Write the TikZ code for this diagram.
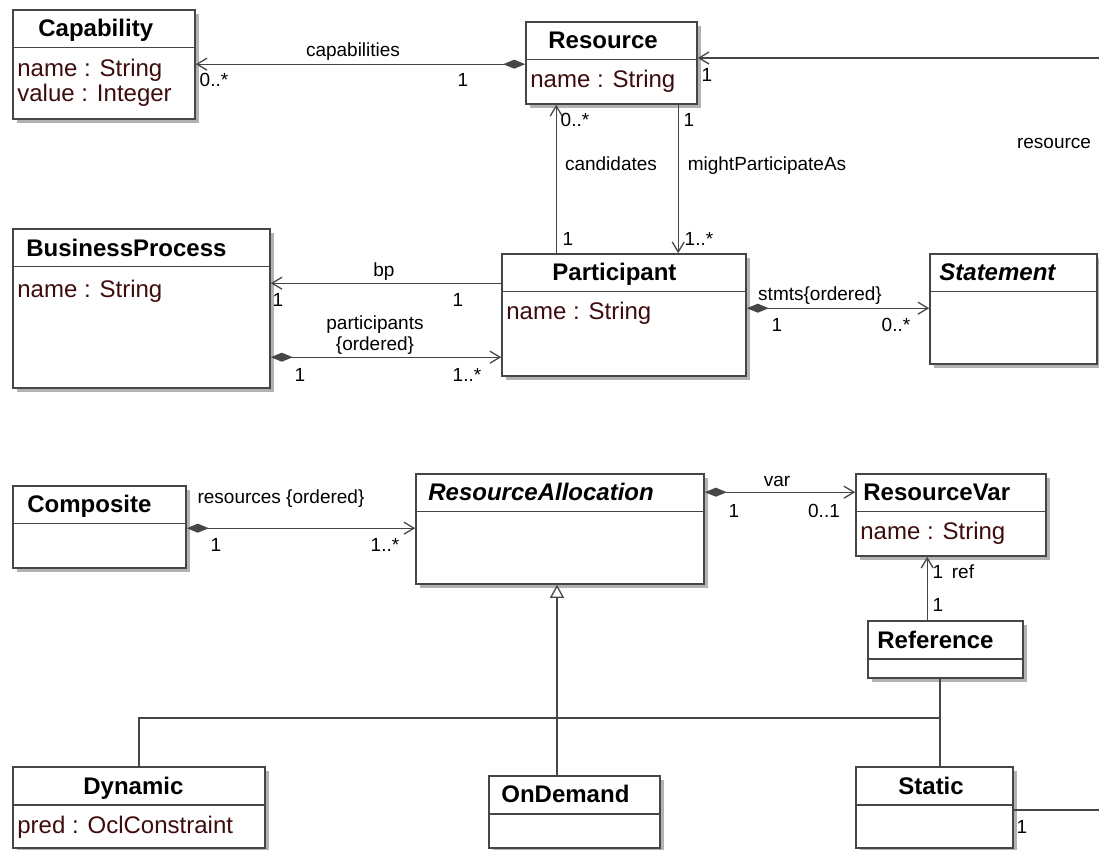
\documentclass[tikz,border=0pt]{standalone}
\usepackage{fontspec}
\setmainfont{Liberation Sans}
\usetikzlibrary{arrows.meta,calc,fit,shadows}
\definecolor{attrc}{RGB}{62,12,12}
\definecolor{linec}{RGB}{70,70,70}

\begin{document}
\begin{tikzpicture}[x=0.5pt,y=-0.5pt,
  cls/.style={draw=linec,line width=0.8pt,fill=white,inner sep=0pt,drop shadow={shadow xshift=2pt,shadow yshift=-2pt,fill=black!30,opacity=1}},
  ttl/.style={font=\fontsize{12}{14}\selectfont\bfseries,anchor=base west,inner sep=0pt},
  abs/.style={ttl,font=\fontsize{12}{14}\selectfont\bfseries\itshape},
  att/.style={font=\fontsize{12}{14}\selectfont,text=attrc,anchor=base west,inner sep=0pt},
  lbl/.style={font=\fontsize{9.5}{11}\selectfont,anchor=base,inner sep=0pt},
  assoc/.style={draw=linec,line width=0.65pt,-{Straight Barb[length=5pt,width=6pt]}},
  comp/.style={draw=linec,line width=0.65pt,{Diamond[length=11pt,width=4.5pt,fill=linec]}-{Straight Barb[length=5pt,width=6pt]}},
  gen/.style={draw=linec,line width=0.65pt,-{Triangle[open,length=6.5pt,width=7pt,fill=white]}},
  tree/.style={draw=linec,line width=0.65pt}]
\useasboundingbox (0,0) rectangle (1099,850);

% classes
\node[cls,fit={(13,10)(195,119)}] (cap) {};
\node[cls,fit={(526,22)(697,104)}] (res) {};
\node[cls,fit={(13,229)(270,388)}] (bp) {};
\node[cls,fit={(502,254)(746,376)}] (par) {};
\node[cls,fit={(930,254)(1097,364)}] (stm) {};
\node[cls,fit={(13,486)(186,568)}] (com) {};
\node[cls,fit={(416,474)(704,584)}] (ra) {};
\node[cls,fit={(856,474)(1046,556)}] (rv) {};
\node[cls,fit={(868,621)(1023,678)}] (ref) {};
\node[cls,fit={(13,767)(265,848)}] (dyn) {};
\node[cls,fit={(489,776)(660,848)}] (ond) {};
\node[cls,fit={(856,767)(1013,848)}] (sta) {};
\foreach \c in {cap,res,bp,par,stm,com,ra,rv,ref,dyn,ond,sta}
  \draw[tree,line width=0.8pt] ($(\c.north west)+(0,38.5)$) -- ($(\c.north east)+(0,38.5)$);

% names
\node[ttl] (capT) at (38,37) {Capability};
\node[ttl] (resT) at (548,49) {Resource};
\node[ttl] (bpT) at (26,257) {BusinessProcess};
\node[ttl] (parT) at (552,281) {Participant};
\node[abs] (stmT) at (939,281) {Statement};
\node[ttl] (comT) at (27,513) {Composite};
\node[abs] (raT) at (428,501) {ResourceAllocation};
\node[ttl] (rvT) at (863,501) {ResourceVar};
\node[ttl] (refT) at (877,648) {Reference};
\node[ttl] (dynT) at (83,794) {Dynamic};
\node[ttl] (ondT) at (501,802) {OnDemand};
\node[ttl] (staT) at (898,794) {Static};

% attributes
\node[att] (capA) at (17,77) {name : String};
\node[att] (capB) at (17,102) {value : Integer};
\node[att] (resA) at (530,88) {name : String};
\node[att] (bpA) at (17,298) {name : String};
\node[att] (parA) at (506,320) {name : String};
\node[att] (rvA) at (860,539) {name : String};
\node[att] (dynA) at (17,833) {pred : OclConstraint};

% associations
\draw[comp] ($(res.north west)+(0,43)$) coordinate (capY) -- (capY -| cap.east);
\coordinate (resE) at (1099,58);
\draw[assoc] (resE) -- (resE -| res.east);
\draw[assoc] ($(par.north west)+(55,0)$) coordinate (candX) -- (candX |- res.south);
\draw[assoc] ($(res.south west)+(153,0)$) coordinate (mpaX) -- (mpaX |- par.north);
\draw[assoc] ($(par.north west)+(0,30)$) coordinate (bpY) -- (bpY -| bp.east);
\draw[comp] ($(bp.north east)+(0,129)$) coordinate (partY) -- (partY -| par.west);
\draw[comp] ($(par.north east)+(0,55)$) coordinate (stmY) -- (stmY -| stm.west);
\draw[comp] ($(com.north east)+(0,43)$) coordinate (rscY) -- (rscY -| ra.west);
\draw[comp] ($(ra.north east)+(0,19)$) coordinate (varY) -- (varY -| rv.west);
\draw[assoc] ($(ref.north west)+(60,0)$) coordinate (refX) -- (refX |- rv.south);
\coordinate (staE) at (1099,810);
\draw[tree] (staE -| sta.east) -- (staE);

% generalization
\coordinate (genJ) at (557,718);
\coordinate (genR) at (940,718);
\draw[gen] (genJ) -- (genJ |- ra.south);
\draw[tree] (dyn.north) |- (genR);
\draw[tree] (genJ) -- (genJ |- ond.north);
\draw[tree] (ref.south -| genR) -- (genR |- sta.north);

% labels
\node[lbl] (l1) at (353,57) {capabilities};
\node[lbl] (l2) at (214,87) {0..*};
\node[lbl] (l3) at (463,87) {1};
\node[lbl] (l4) at (707,82) {1};
\node[lbl] (l5) at (1054,149) {resource};
\node[lbl] (l6) at (575,127) {0..*};
\node[lbl] (l7) at (611,171) {candidates};
\node[lbl] (l8) at (568,246) {1};
\node[lbl] (l9) at (689,127) {1};
\node[lbl] (l10) at (767,171) {mightParticipateAs};
\node[lbl] (l11) at (699,246) {1..*};
\node[lbl] (l12) at (384,277) {bp};
\node[lbl] (l13) at (278,307) {1};
\node[lbl] (l14) at (458,307) {1};
\node[lbl] (l15) at (375,330) {participants};
\node[lbl] (l16) at (375,351) {\{ordered\}};
\node[lbl] (l17) at (300,382) {1};
\node[lbl] (l18) at (467,382) {1..*};
\node[lbl] (l19) at (820,301) {stmts\{ordered\}};
\node[lbl] (l20) at (777,332) {1};
\node[lbl] (l21) at (896,332) {0..*};
\node[lbl] (l22) at (281,503) {resources \{ordered\}};
\node[lbl] (l23) at (216,552) {1};
\node[lbl] (l24) at (385,552) {1..*};
\node[lbl] (l25) at (777,487) {var};
\node[lbl] (l26) at (734,517) {1};
\node[lbl] (l27) at (824,517) {0..1};
\node[lbl] (l28) at (938,578) {1};
\node[lbl] (l29) at (963,578) {ref};
\node[lbl] (l30) at (938,611) {1};
\node[lbl] (l31) at (1022,833) {1};
\end{tikzpicture}
\end{document}
